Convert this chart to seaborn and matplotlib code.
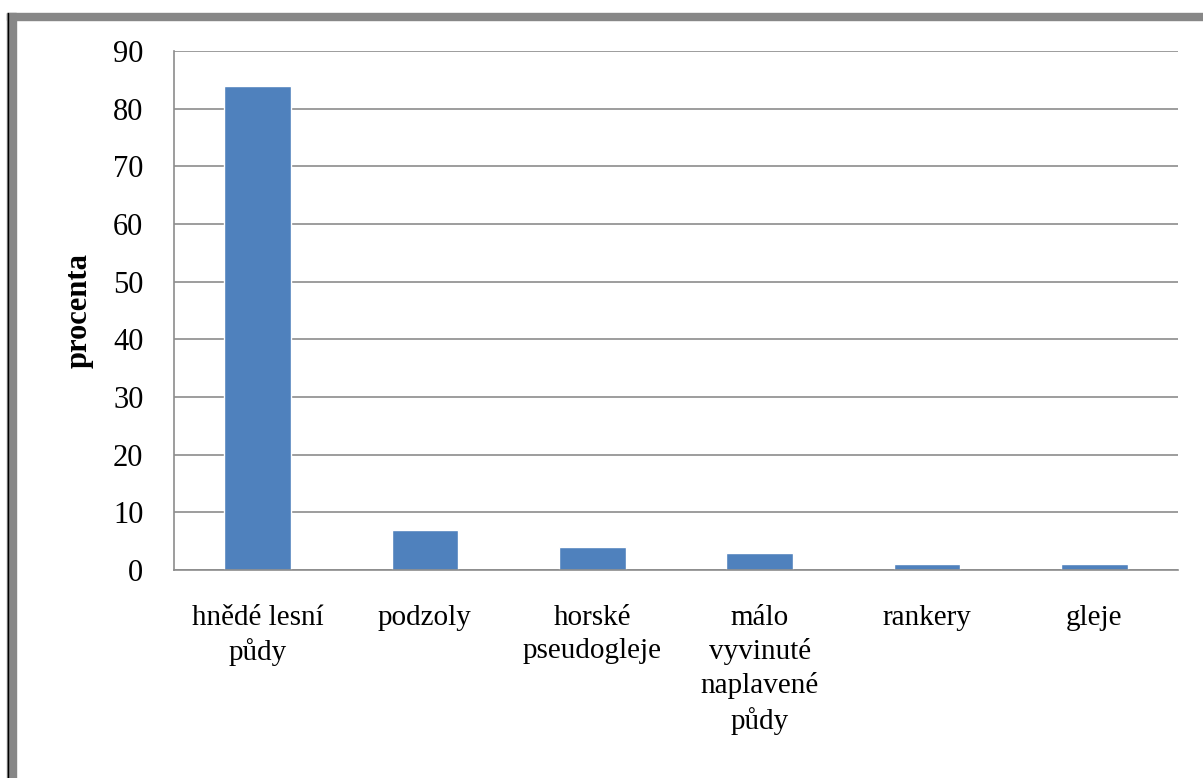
import matplotlib.pyplot as plt
import seaborn as sns
import pandas as pd
from matplotlib.patches import Rectangle
from matplotlib.lines import Line2D

categories = ["hnědé lesní\npůdy", "podzoly", "horské\npseudogleje",
              "málo\nvyvinuté\nnaplavené\npůdy", "rankery", "gleje"]
values = [84, 7, 4, 3, 1, 1]
y_ticks = [0, 10, 20, 30, 40, 50, 60, 70, 80, 90]

sns.set_style("white")
plt.rcParams['font.family'] = ['Liberation Serif', 'DejaVu Serif']
plt.rcParams['text.color'] = 'black'
plt.rcParams['xtick.color'] = 'black'
plt.rcParams['ytick.color'] = 'black'
plt.rcParams['axes.labelcolor'] = 'black'

df = pd.DataFrame({"typ": categories, "procenta": values})

fig = plt.figure(figsize=(12.03, 7.78), dpi=100)
ax = fig.add_axes([174 / 1203, 1 - 570 / 778, (1178 - 174) / 1203, (570 - 51) / 778])

sns.barplot(data=df, x="typ", y="procenta", color="#4F81BD", width=0.4,
            saturation=1, ax=ax)

ax.set_ylim(0, 90)
ax.set_yticks(y_ticks)
ax.yaxis.grid(True, color="#8c8c8c", linewidth=1.2)
ax.set_axisbelow(True)
for side in ["top", "right"]:
    ax.spines[side].set_visible(False)
ax.spines["left"].set_color("#8c8c8c")
ax.spines["bottom"].set_color("#8c8c8c")
ax.spines["left"].set_linewidth(1.2)
ax.spines["bottom"].set_linewidth(1.2)

ax.tick_params(axis="y", labelsize=22, pad=22, length=0)
ax.tick_params(axis="x", labelsize=21, pad=25, length=0)
for lbl in ax.get_xticklabels():
    lbl.set_linespacing(1.35)
    lbl.set_verticalalignment("top")

ax.set_xlabel("")
ax.set_ylabel("procenta", fontsize=22, fontweight="bold", labelpad=14)

# outer frame (gray band at top and left)
fig.patches.append(Rectangle((7 / 1203, 0), 9 / 1203, 1 - 13 / 778,
                             transform=fig.transFigure, color="#878787", zorder=0))
fig.patches.append(Rectangle((7 / 1203, 1 - 20 / 778), 1 - 7 / 1203, 7 / 778,
                             transform=fig.transFigure, color="#878787", zorder=0))
fig.lines.append(Line2D([7.5 / 1203, 7.5 / 1203], [0, 1 - 13 / 778],
                        transform=fig.transFigure, color="black", linewidth=1))

fig.savefig("out.png", dpi=100)
